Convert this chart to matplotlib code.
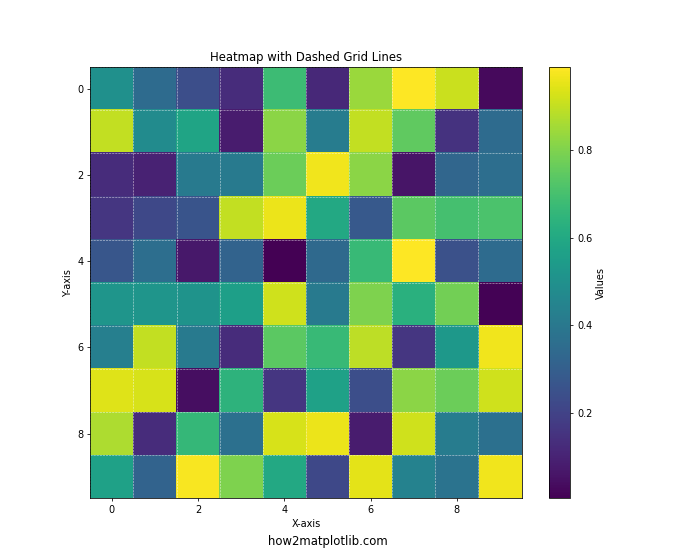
import numpy as np
import matplotlib
matplotlib.use('Agg')
import matplotlib.pyplot as plt

# values (rows top to bottom)
row0 = [0.50, 0.35, 0.24, 0.13, 0.68, 0.12, 0.84, 0.99, 0.91, 0.03]
row1 = [0.90, 0.48, 0.58, 0.08, 0.82, 0.42, 0.90, 0.75, 0.15, 0.35]
row2 = [0.13, 0.10, 0.41, 0.41, 0.77, 0.97, 0.82, 0.06, 0.33, 0.36]
row3 = [0.16, 0.22, 0.26, 0.90, 0.96, 0.60, 0.28, 0.74, 0.70, 0.71]
row4 = [0.27, 0.36, 0.07, 0.32, 0.005, 0.34, 0.67, 0.99, 0.25, 0.35]
row5 = [0.52, 0.52, 0.51, 0.56, 0.92, 0.41, 0.80, 0.63, 0.78, 0.01]
row6 = [0.43, 0.90, 0.41, 0.13, 0.74, 0.67, 0.89, 0.16, 0.53, 0.97]
row7 = [0.94, 0.93, 0.04, 0.64, 0.16, 0.57, 0.24, 0.82, 0.77, 0.92]
row8 = [0.87, 0.13, 0.66, 0.37, 0.93, 0.96, 0.08, 0.92, 0.42, 0.37]
row9 = [0.57, 0.32, 0.98, 0.80, 0.60, 0.22, 0.95, 0.44, 0.38, 0.97]

data = np.array([row0, row1, row2, row3, row4, row5, row6, row7, row8, row9])

fig, ax = plt.subplots(figsize=(10, 8), dpi=70)
im = ax.imshow(data, cmap='viridis')
plt.colorbar(im, label='Values')

ax.set_xticks(np.arange(-0.5, 10, 1), minor=True)
ax.set_yticks(np.arange(-0.5, 10, 1), minor=True)
ax.grid(which='minor', color='w', linestyle='--', linewidth=0.6, alpha=0.7)
ax.tick_params(which='minor', length=0)

ax.set_title('Heatmap with Dashed Grid Lines')
ax.set_xlabel('X-axis')
ax.set_ylabel('Y-axis')

ax.text(5, 10.5, 'how2matplotlib.com', ha='center', va='center', fontsize=12)

plt.savefig('out.png')
